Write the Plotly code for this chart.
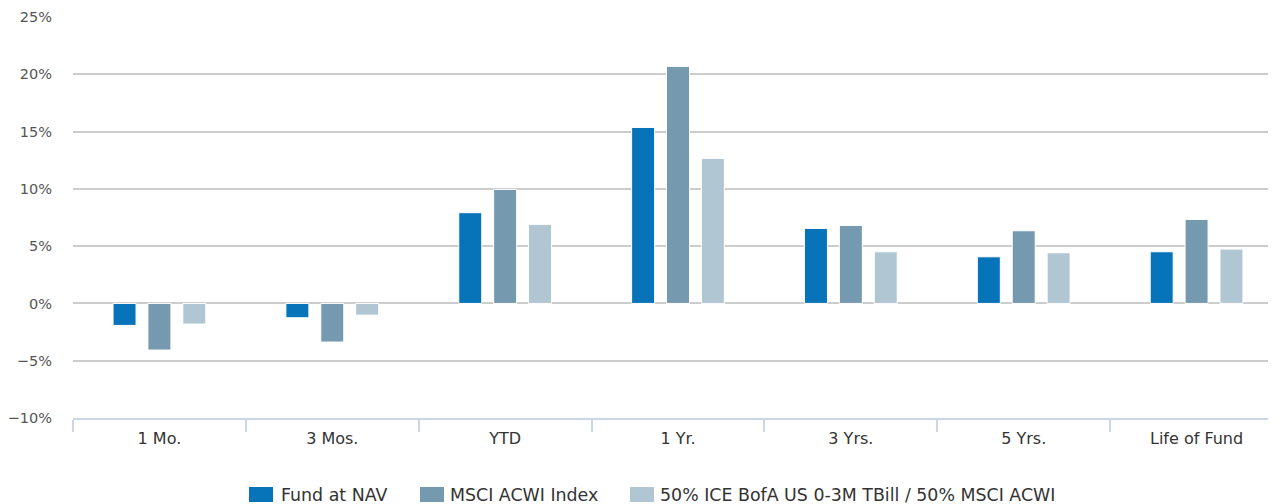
import plotly.graph_objects as go

categories = ["1 Mo.", "3 Mos.", "YTD", "1 Yr.", "3 Yrs.", "5 Yrs.", "Life of Fund"]
fund_nav = [-1.92, -1.25, 7.92, 15.36, 6.55, 4.07, 4.51]
msci_acwi = [-4.07, -3.37, 9.95, 20.69, 6.81, 6.34, 7.33]
blend = [-1.80, -1.02, 6.90, 12.66, 4.51, 4.42, 4.74]
series_names = ["Fund at NAV", "MSCI ACWI Index", "50% ICE BofA US 0-3M TBill / 50% MSCI ACWI"]
series_colors = ["#0774b9", "#7599ae", "#b0c6d2"]
y_ticks = [-10, -5, 0, 5, 10, 15, 20, 25]
y_tick_labels = ["\u221210%", "\u22125%", "0%", "5%", "10%", "15%", "20%", "25%"]

# the page body has an 8px margin; figure coords = page coords - 8
OFF = 8
W, H = 1276, 504
ML, MR, MT = 73 - OFF, 1, 17 - OFF
PB = 418 - OFF  # plot bottom in figure coords
MB = H - PB
PW, PH = W - ML - MR, H - MT - MB

fig = go.Figure()
for name, vals, col in zip(series_names, [fund_nav, msci_acwi, blend], series_colors):
    fig.add_trace(go.Bar(
        x=categories, y=vals, name=name,
        marker=dict(color=col, line=dict(color="#ffffff", width=1)),
        showlegend=False,
        hovertemplate="%{x}: %{y:.2f}%<extra>" + name + "</extra>",
    ))

font = "DejaVu Sans, Verdana, sans-serif"

# manual legend (paper coordinates), positions given in page pixels
def px_x(px):
    return (px - OFF - ML) / PW

def px_y(py):
    return (PB - (py - OFF)) / PH

legend_items = [(249, 279), (420, 448), (630, 658)]
shapes = []
annotations = []
for (sx, tx), name, col in zip(legend_items, series_names, series_colors):
    shapes.append(dict(type="rect", xref="paper", yref="paper",
                       x0=px_x(sx), x1=px_x(sx + 24), y0=px_y(502), y1=px_y(487),
                       fillcolor=col, line=dict(width=0)))
    annotations.append(dict(xref="paper", yref="paper", x=px_x(tx), y=px_y(494.5),
                            xanchor="left", yanchor="middle", showarrow=False,
                            text=name, font=dict(family=font, size=17.4, color="#333333")))

fig.update_layout(
    width=W, height=H,
    margin=dict(l=ML, r=MR, t=MT, b=MB),
    paper_bgcolor="white", plot_bgcolor="white",
    barmode="group", bargap=0.3945, bargroupgap=0.341,
    shapes=shapes, annotations=annotations,
    xaxis=dict(
        type="category", range=[-0.5, 6.5],
        showline=True, linecolor="#ccd6eb", linewidth=2,
        ticks="outside", tickson="boundaries", ticklen=12, tickcolor="#ccd6eb", tickwidth=1.5,
        ticklabelstandoff=5,
        showgrid=False, tickfont=dict(family=font, size=16, color="#333333"),
        fixedrange=True,
    ),
    yaxis=dict(
        range=[-10, 25], tickvals=y_ticks, ticktext=y_tick_labels,
        showgrid=True, gridcolor="#cccccc", gridwidth=1.5,
        zeroline=False, showline=False, ticks="",
        ticklabelstandoff=20,
        tickfont=dict(family=font, size=14.5, color="#555555"),
        fixedrange=True,
    ),
)

fig.write_html("out.html")
